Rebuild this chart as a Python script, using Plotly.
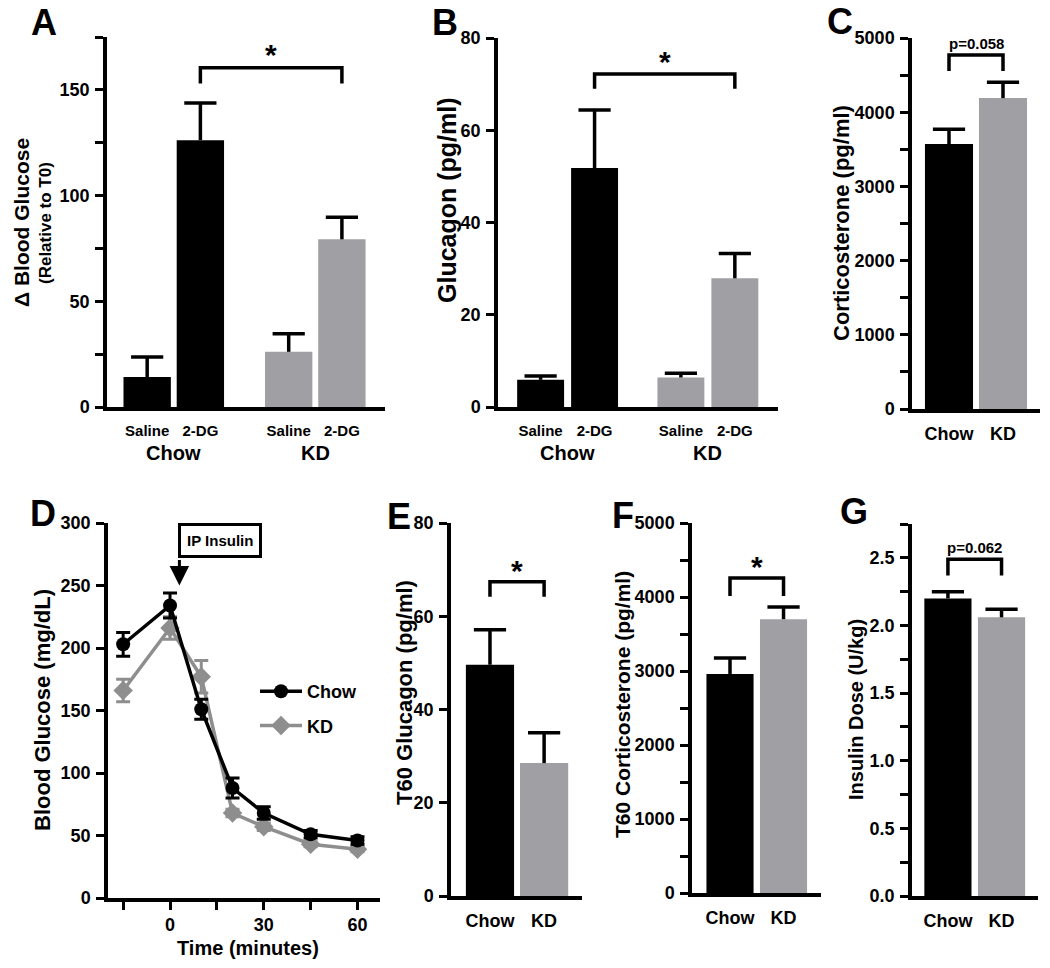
import plotly.graph_objects as go

W, H = 1050, 968
FONT = "Liberation Sans"
BLACK = "#000000"
GRAY = "#a0a0a4"
LINE_GRAY = "#8e8e8e"

# ---------------- data ----------------
diets = ["Chow", "KD"]
treatments = ["Saline", "2-DG"]

# A: delta blood glucose (relative to T0)
a_chow = [14.2, 126.2]
a_chow_err = [9.5, 17.6]
a_kd = [26.1, 79.3]
a_kd_err = [8.5, 10.4]

# B: glucagon (pg/ml)
b_chow = [5.9, 51.8]
b_chow_err = [0.8, 12.6]
b_kd = [6.4, 27.9]
b_kd_err = [0.9, 5.4]

# C: corticosterone (pg/ml)
c_vals = [3570, 4190]
c_err = [200, 215]

# D: insulin tolerance test
d_time = [-15, 0, 10, 20, 30, 45, 60]
d_chow = [203, 234, 151, 88, 68, 51, 46]
d_chow_err = [9.5, 10, 8, 8, 5, 3, 3]
d_kd = [166, 216, 177, 68, 57, 43, 39]
d_kd_err = [9, 9, 13, 3, 3, 2, 2]

# E: T60 glucagon
e_vals = [49.6, 28.5]
e_err = [7.5, 6.5]

# F: T60 corticosterone
f_vals = [2960, 3700]
f_err = [215, 165]

# G: insulin dose
g_vals = [2.20, 2.06]
g_err = [0.05, 0.06]

# ---------------- helpers ----------------
def px_x(p):
    return p / W


def px_y(p):
    return 1 - p / H


def axnames(i):
    return ("x" if i == 1 else f"x{i}", "y" if i == 1 else f"y{i}")


fig = go.Figure()
layout_axes = {}


def make_axes(i, xdom, xrange, ydom, yrange, dtick, minor=None, tickformat=None,
              xtickvals=None, xticktext=None, xtickfont=18, xticks="", xminor=None,
              xstandoff=6):
    xa, ya = axnames(i)
    xkey = "xaxis" if i == 1 else f"xaxis{i}"
    ykey = "yaxis" if i == 1 else f"yaxis{i}"
    xd = dict(domain=[px_x(xdom[0]), px_x(xdom[1])], range=xrange, anchor=ya,
              showline=True, linewidth=3.5, linecolor="black", showgrid=False,
              zeroline=False, ticks=xticks, ticklen=8, tickwidth=3, tickcolor="black",
              tickfont=dict(size=xtickfont, family=FONT, weight="bold"),
              ticklabelstandoff=xstandoff, fixedrange=True, automargin=False)
    if xtickvals is not None:
        xd["tickmode"] = "array"
        xd["tickvals"] = xtickvals
        xd["ticktext"] = xticktext
    if xminor is not None:
        xd["minor"] = xminor
    yd = dict(domain=[px_y(ydom[1]), px_y(ydom[0])], range=yrange, anchor=xa,
              showline=True, linewidth=3.5, linecolor="black", showgrid=False,
              zeroline=False, ticks="outside", ticklen=8, tickwidth=3, tickcolor="black",
              dtick=dtick, tick0=0, tickfont=dict(size=18, family=FONT, weight="bold"),
              ticklabelstandoff=2, fixedrange=True, automargin=False)
    if minor is not None:
        yd["minor"] = dict(dtick=minor, ticks="outside", ticklen=8, tickwidth=3,
                           tickcolor="black", showgrid=False)
    if tickformat:
        yd["tickformat"] = tickformat
    layout_axes[xkey] = xd
    layout_axes[ykey] = yd


def add_bars(i, xs, vals, errs, color, bw, cap=23):
    xa, ya = axnames(i)
    fig.add_trace(go.Bar(
        x=xs, y=vals, width=bw, xaxis=xa, yaxis=ya, showlegend=False,
        marker=dict(color=color, line=dict(width=0)),
        error_y=dict(type="data", array=errs, arrayminus=[0] * len(errs),
                     symmetric=False, width=0, thickness=3.5, color="black"),
        hoverinfo="skip"))
    fig.add_trace(go.Scatter(
        x=xs, y=[v + e for v, e in zip(vals, errs)], mode="markers",
        xaxis=xa, yaxis=ya, showlegend=False, hoverinfo="skip",
        marker=dict(symbol="line-ew", size=cap, color="black",
                    line=dict(width=3.5, color="black"))))


def bracket(i, x1, x2, y_top, y_leg, label, size, yshift):
    xa, ya = axnames(i)
    fig.add_trace(go.Scatter(
        x=[x1, x1, x2, x2], y=[y_leg, y_top, y_top, y_leg], mode="lines",
        xaxis=xa, yaxis=ya, showlegend=False, hoverinfo="skip",
        line=dict(color="black", width=3.5)))
    fig.add_annotation(x=(x1 + x2) / 2, y=y_top, xref=xa, yref=ya, text=label,
                       showarrow=False, yanchor="bottom", yshift=yshift,
                       font=dict(size=size, family=FONT, weight="bold", color="black"))


def text_px(x, y, text, size, angle=0):
    fig.add_annotation(x=px_x(x), y=px_y(y), xref="paper", yref="paper", text=text,
                       showarrow=False, textangle=angle, xanchor="center", yanchor="middle",
                       font=dict(size=size, family=FONT, weight="bold", color="black"))


# ---------------- Panel A ----------------
a_gap = 2.66
a_pos = [[g * a_gap + t for t in range(len(treatments))] for g in range(len(diets))]
make_axes(1, (107, 385), [-0.755, 4.47], (37, 407), [0, 175], 50, minor=25,
          xtickvals=a_pos[0] + a_pos[1], xticktext=treatments * 2, xtickfont=15,
          xstandoff=7)
add_bars(1, a_pos[0], a_chow, a_chow_err, BLACK, 0.89)
add_bars(1, a_pos[1], a_kd, a_kd_err, GRAY, 0.89)
bracket(1, a_pos[0][1], a_pos[1][1], 160.5, 153, "*", 30, -5)
for g, d in enumerate(diets):
    fig.add_annotation(x=sum(a_pos[g]) / 2, y=px_y(453), xref="x", yref="paper", text=d,
                       showarrow=False, yanchor="middle",
                       font=dict(size=20, family=FONT, weight="bold", color="black"))
text_px(21, 223, "Δ Blood Glucose", 21, -90)
text_px(45, 223, "(Relative to T0)", 17, -90)

# ---------------- Panel B ----------------
b_gap = 2.6
b_pos = [[g * b_gap + t for t in range(len(treatments))] for g in range(len(diets))]
make_axes(2, (498, 778), [-0.79, 4.40], (38, 407), [0, 80], 20,
          xtickvals=b_pos[0] + b_pos[1], xticktext=treatments * 2, xtickfont=15,
          xstandoff=7)
add_bars(2, b_pos[0], b_chow, b_chow_err, BLACK, 0.87)
add_bars(2, b_pos[1], b_kd, b_kd_err, GRAY, 0.87)
bracket(2, b_pos[0][1], b_pos[1][1], 72.2, 69, "*", 30, -6)
for g, d in enumerate(diets):
    fig.add_annotation(x=sum(b_pos[g]) / 2, y=px_y(453), xref="x2", yref="paper", text=d,
                       showarrow=False, yanchor="middle",
                       font=dict(size=20, family=FONT, weight="bold", color="black"))
text_px(447, 200, "Glucagon (pg/ml)", 25, -90)

# ---------------- Panel C ----------------
make_axes(3, (912, 1040), [-0.685, 1.685], (38, 409), [0, 5000], 1000, minor=500,
          xtickvals=[0, 1], xticktext=diets)
add_bars(3, [0], c_vals[:1], c_err[:1], BLACK, 0.89)
add_bars(3, [1], c_vals[1:], c_err[1:], GRAY, 0.89)
bracket(3, 0, 1, 4771, 4555, "p=0.058", 15, 1)
text_px(841, 223, "Corticosterone (pg/ml)", 22, -90)

# ---------------- Panel D ----------------
make_axes(4, (108, 380), [-19.85, 67.2], (523, 898), [0, 300], 50,
          xtickvals=[0, 30, 60], xticktext=["0", "30", "60"], xtickfont=18,
          xticks="outside", xstandoff=0,
          xminor=dict(tickvals=[-15, 15, 45], ticks="outside", ticklen=8, tickwidth=3,
                      tickcolor="black"))
fig.add_trace(go.Scatter(
    x=d_time, y=d_kd, mode="lines+markers", name="KD", xaxis="x4", yaxis="y4",
    line=dict(color=LINE_GRAY, width=3.5),
    marker=dict(symbol="diamond", size=15, color=LINE_GRAY),
    error_y=dict(type="data", array=d_kd_err, width=7, thickness=3, color=LINE_GRAY),
    legendrank=2, legendgroup="kd"))
fig.add_trace(go.Scatter(
    x=d_time, y=d_chow, mode="lines+markers", name="Chow", xaxis="x4", yaxis="y4",
    line=dict(color=BLACK, width=3.5),
    marker=dict(symbol="circle", size=14, color=BLACK),
    error_y=dict(type="data", array=d_chow_err, width=7, thickness=3, color=BLACK),
    legendrank=1, legendgroup="chow"))
text_px(42, 710, "Blood Glucose (mg/dL)", 22, -90)
text_px(248, 948, "Time (minutes)", 20)
fig.add_annotation(x=2.7, y=286, xref="x4", yref="y4", text="IP Insulin", showarrow=False,
                   xanchor="left", yanchor="middle", bordercolor="black", borderwidth=3,
                   borderpad=6, bgcolor="white",
                   font=dict(size=15, family=FONT, weight="bold", color="black"))
fig.add_annotation(x=3, y=250, xref="x4", yref="y4", text="", showarrow=True,
                   ax=0, ay=-27, arrowhead=2, arrowsize=1.3, arrowwidth=3,
                   arrowcolor="black")

# ---------------- Panel E ----------------
make_axes(5, (451, 582), [-0.72, 1.70], (523, 896), [0, 80], 20,
          xtickvals=[0, 1], xticktext=diets)
add_bars(5, [0], e_vals[:1], e_err[:1], BLACK, 0.89)
add_bars(5, [1], e_vals[1:], e_err[1:], GRAY, 0.89)
bracket(5, 0, 1, 67.4, 64.2, "*", 30, -7)
text_px(404, 693, "T60 Glucagon (pg/ml)", 22, -90)

# ---------------- Panel F ----------------
make_axes(6, (692, 821), [-0.71, 1.70], (523, 893), [0, 5000], 1000, minor=500,
          xtickvals=[0, 1], xticktext=diets)
add_bars(6, [0], f_vals[:1], f_err[:1], BLACK, 0.88)
add_bars(6, [1], f_vals[1:], f_err[1:], GRAY, 0.88)
bracket(6, 0, 1, 4257, 4014, "*", 30, -7)
text_px(622, 705, "T60 Corticosterone (pg/ml)", 21, -90)

# ---------------- Panel G ----------------
make_axes(7, (912, 1038), [-0.67, 1.68], (524, 896), [0, 2.75], 0.5, minor=0.25,
          tickformat=".1f", xtickvals=[0, 1], xticktext=diets)
add_bars(7, [0], g_vals[:1], g_err[:1], BLACK, 0.88)
add_bars(7, [1], g_vals[1:], g_err[1:], GRAY, 0.88)
bracket(7, 0, 1, 2.49, 2.37, "p=0.062", 15, 1)
text_px(856, 710, "Insulin Dose (U/kg)", 20, -90)

# ---------------- panel letters ----------------
for letter, (lx, ly) in zip("ABCDEFG", [(44, 23), (445, 23), (840, 22), (43, 513),
                                        (399, 516), (623, 515), (854, 511)]):
    text_px(lx, ly, letter, 36)

fig.update_layout(
    width=W, height=H, margin=dict(l=0, r=0, t=0, b=0, pad=0, autoexpand=False),
    plot_bgcolor="white", paper_bgcolor="white", barmode="overlay",
    font=dict(family=FONT, color="black", weight="bold"),
    showlegend=True,
    legend=dict(x=px_x(255), y=px_y(673), xanchor="left", yanchor="top",
                bgcolor="rgba(0,0,0,0)", itemwidth=42, tracegroupgap=8,
                font=dict(size=18, family=FONT, weight="bold", color="black")),
    **layout_axes)

fig.write_html("out.html", config={"displayModeBar": False},
               post_script="document.body.style.margin='0';document.body.style.padding='0';")
